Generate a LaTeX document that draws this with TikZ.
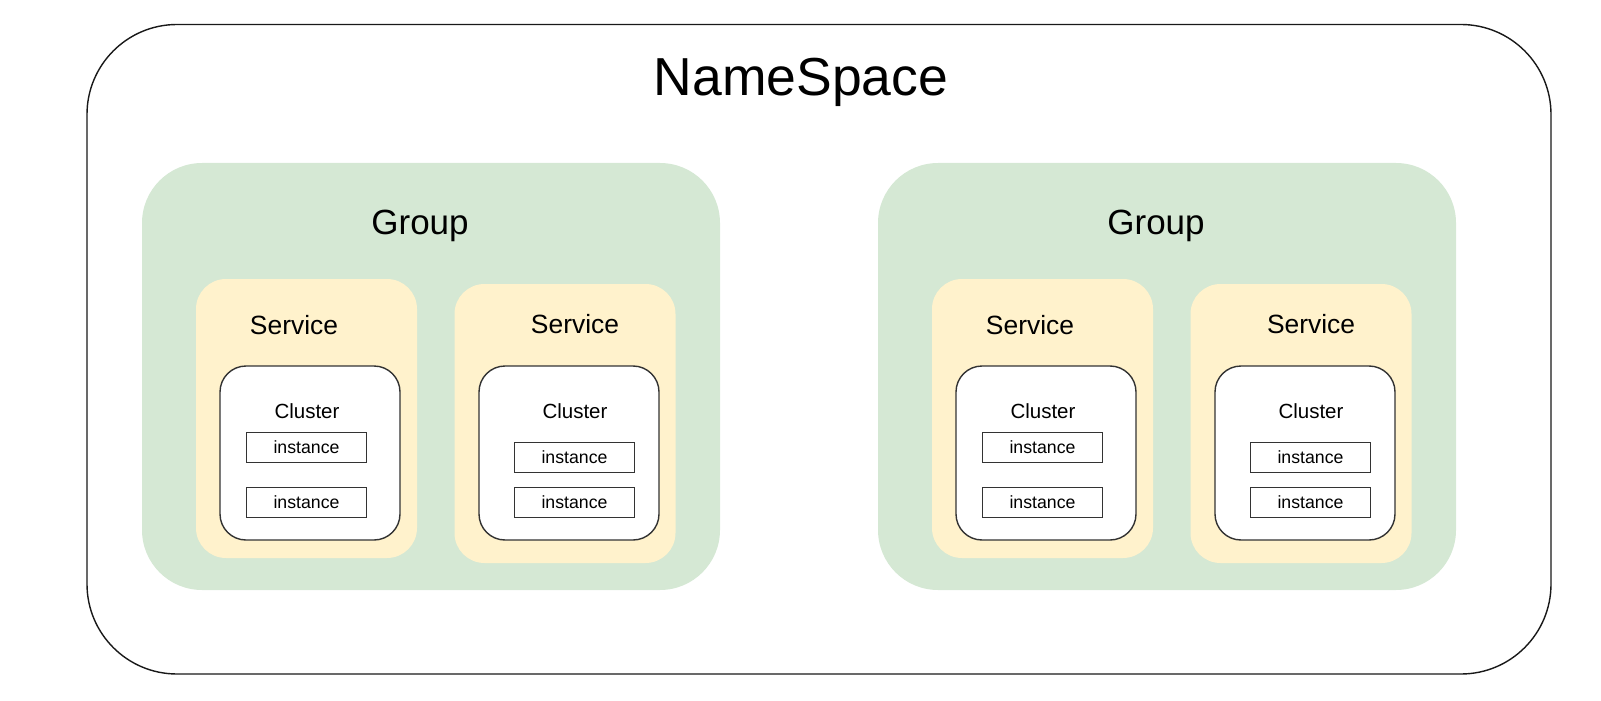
\documentclass[tikz,border=0pt]{standalone}
\usepackage{fontspec}
\setmainfont{Liberation Sans}
\definecolor{groupgreen}{HTML}{D5E8D4}
\definecolor{serviceyellow}{HTML}{FFF2CC}
\definecolor{linegrey}{HTML}{333333}
\begin{document}
\begin{tikzpicture}[x=0.5pt,y=-0.5pt,
        ns box/.style={draw=black!90,line width=0.7pt,rounded corners=45pt,
            minimum width=732pt,minimum height=324.75pt},
        group box/.style={fill=groupgreen,rounded corners=30pt,
            minimum width=289pt,minimum height=213.5pt},
        service box/.style={fill=serviceyellow,rounded corners=15pt,
            minimum width=110.5pt,minimum height=139.5pt},
        cluster box/.style={draw=linegrey,fill=white,line width=0.7pt,rounded corners=13pt,
            minimum width=90pt,minimum height=87pt},
        instance box/.style={draw=linegrey,fill=white,line width=0.6pt,inner sep=0pt,
            minimum width=60pt,minimum height=15pt,font=\fontsize{8.85}{10}\selectfont},
        main label/.style={anchor=base,inner sep=0pt}]

        \useasboundingbox (0,0) rectangle (1601,701);

        % Define containers
        \node[ns box] (NS) at (819,349.25) {};
        \node[group box] (GL) at (431,376.5) {};
        \node[group box] (GR) at (1167,376.5) {};

        \node[service box] (SL1) at (306.5,418.5) {};
        \node[service box] (SL2) at (565,423.5) {};
        \node[service box] (SR1) at (1042.5,418.5) {};
        \node[service box] (SR2) at (1301,423.5) {};

        \node[cluster box] (CL1) at (310,453) {};
        \node[cluster box] (CL2) at (569,453) {};
        \node[cluster box] (CR1) at (1046,453) {};
        \node[cluster box] (CR2) at (1305,453) {};

        % Define instances
        \node[instance box] (IL1a) at (306.5,447.5) {instance};
        \node[instance box] (IL1b) at (306.5,502.5) {instance};
        \node[instance box] (IL2a) at (574.5,457.5) {instance};
        \node[instance box] (IL2b) at (574.5,502.5) {instance};
        \node[instance box] (IR1a) at (1042.5,447.5) {instance};
        \node[instance box] (IR1b) at (1042.5,502.5) {instance};
        \node[instance box] (IR2a) at (1310.5,457.5) {instance};
        \node[instance box] (IR2b) at (1310.5,502.5) {instance};

        % Draw labels
        \node[main label,font=\fontsize{26.75}{30}\selectfont] (nsl) at (801,96) {NameSpace};
        \node[main label,font=\fontsize{17.5}{20}\selectfont] (gll) at (420,234.5) {Group};
        \node[main label,font=\fontsize{17.5}{20}\selectfont] (grl) at (1156,234.5) {Group};
        \path[every node/.style={main label,font=\fontsize{13.2}{15}\selectfont}]
            (294,334) node (sl1l) {Service}
            (575,333) node (sl2l) {Service}
            (1030,334) node (sr1l) {Service}
            (1311,333) node (sr2l) {Service};
        \path[every node/.style={main label,font=\fontsize{10.25}{12}\selectfont}]
            (307,418) node (cl1l) {Cluster}
            (575,418) node (cl2l) {Cluster}
            (1043,418) node (cr1l) {Cluster}
            (1311,418) node (cr2l) {Cluster};

        \end{tikzpicture}
\end{document}
